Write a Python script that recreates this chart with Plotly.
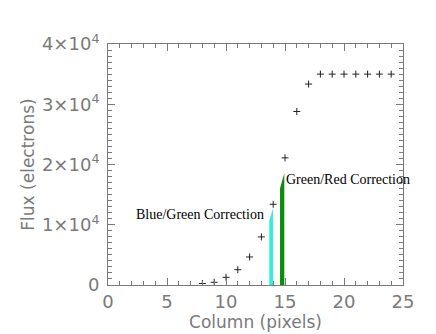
import plotly.graph_objects as go

# Data
columns = [8, 9, 10, 11, 12, 13, 14, 15, 16, 17, 18, 19, 20, 21, 22, 23, 24]
flux = [250, 450, 1280, 2540, 4650, 7980, 13400, 21100, 28800, 33350,
        35000, 35000, 35000, 35000, 35000, 35000, 35000]

bg_x = [13.67, 13.67, 13.98, 13.98]
bg_y = [0, 10640, 12750, 0]
gr_x = [14.58, 14.58, 14.94, 14.94]
gr_y = [0, 16070, 18560, 0]

ytick_vals = [0, 10000, 20000, 30000, 40000]
ytick_text = ["0", "1×10<sup>4</sup>", "2×10<sup>4</sup>", "3×10<sup>4</sup>", "4×10<sup>4</sup>"]
xtick_vals = [0, 5, 10, 15, 20, 25]

axis_color = "#7a7a7a"
font_sans = "DejaVu Sans"

fig = go.Figure()
fig.add_trace(go.Scatter(x=bg_x, y=bg_y, fill="toself", mode="lines",
                         line=dict(width=0, color="#2af2d2"), fillcolor="#2af2d2",
                         showlegend=False))
fig.add_trace(go.Scatter(x=gr_x, y=gr_y, fill="toself", mode="lines",
                         line=dict(width=0, color="#0a8c0a"), fillcolor="#0a8c0a",
                         showlegend=False))
fig.add_trace(go.Scatter(x=columns, y=flux, mode="markers",
                         marker=dict(symbol="cross-thin", size=5,
                                     line=dict(width=1, color="#222222")),
                         showlegend=False))

fig.add_annotation(x=13.35, y=11750, text="Blue/Green Correction", showarrow=False,
                   xanchor="right", yanchor="middle",
                   font=dict(family="Liberation Serif", size=14, color="black"))
fig.add_annotation(x=14.9, y=17450, text="Green/Red Correction", showarrow=False,
                   xanchor="left", yanchor="middle",
                   font=dict(family="Liberation Serif", size=14, color="black"))

fig.update_xaxes(range=[0, 25], tickvals=xtick_vals, ticks="inside", ticklen=7,
                 tickcolor=axis_color, showline=True, linecolor=axis_color, linewidth=1,
                 mirror="allticks", showgrid=False, zeroline=False, automargin=False,
                 minor=dict(dtick=1, ticks="inside", ticklen=4, tickcolor=axis_color),
                 tickfont=dict(family=font_sans, size=18, color=axis_color),
                 title=dict(text="Column (pixels)", standoff=2,
                            font=dict(family=font_sans, size=17, color=axis_color)))
fig.update_yaxes(range=[0, 40000], tickvals=ytick_vals, ticktext=ytick_text,
                 ticks="inside", ticklen=7, tickcolor=axis_color,
                 showline=True, linecolor=axis_color, linewidth=1,
                 mirror="allticks", showgrid=False, zeroline=False, automargin=False,
                 ticklabelstandoff=4,
                 minor=dict(dtick=1000, ticks="inside", ticklen=4, tickcolor=axis_color),
                 tickfont=dict(family=font_sans, size=18, color=axis_color),
                 title=dict(text="Flux (electrons)", standoff=2,
                            font=dict(family=font_sans, size=17, color=axis_color)))

fig.update_layout(width=436, height=334, margin=dict(l=100, r=41, t=36, b=57),
                  plot_bgcolor="white", paper_bgcolor="white")

fig.write_html("out.html")
